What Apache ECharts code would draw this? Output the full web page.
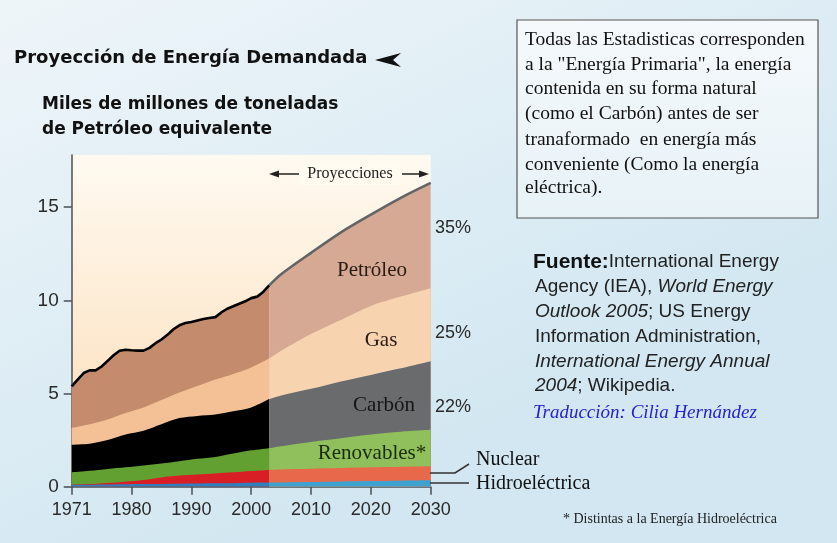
<!DOCTYPE html>
<html lang="es" style="height: 100%">
<head>
    <meta charset="UTF-8">
    <title>Proyección de Energía Demandada</title>
    <script src="https://cdn.jsdelivr.net/npm/echarts@6/dist/echarts.min.js"></script>
</head>
<body style="height: 100%; margin: 0">
<div id="main" style="width: 837px; height: 543px"></div>
<script>
    // eje x: la primera marca se rotula 1971
    var xTickLabels = ['1971', '1980', '1990', '2000', '2010', '2020', '2030'];
    var yTicks = [0, 5, 10, 15];

    // historico: total anual (linea negra)
    var histYears = [1970, 1971, 1972, 1973, 1974, 1975, 1976, 1977, 1978, 1979, 1980, 1981,
        1982, 1983, 1984, 1985, 1986, 1987, 1988, 1989, 1990, 1991, 1992, 1993, 1994, 1995,
        1996, 1997, 1998, 1999, 2000, 2001, 2002, 2003];
    var histTotal = [5.38, 5.75, 6.1, 6.24, 6.24, 6.45, 6.75, 7.05, 7.3, 7.35, 7.32, 7.3,
        7.3, 7.45, 7.7, 7.9, 8.15, 8.45, 8.66, 8.78, 8.84, 8.92, 9.0, 9.05, 9.1, 9.35,
        9.55, 9.68, 9.82, 9.95, 10.12, 10.2, 10.45, 10.8];

    // historico: fuentes (de abajo hacia arriba)
    var lowYears = [1970, 1973, 1976, 1979, 1982, 1985, 1988, 1991, 1994, 1997, 2000, 2003];
    var histHydro = [0.10, 0.11, 0.12, 0.13, 0.14, 0.15, 0.16, 0.17, 0.18, 0.19, 0.21, 0.22];
    var histNuclear = [0.01, 0.03, 0.08, 0.14, 0.22, 0.35, 0.44, 0.49, 0.53, 0.58, 0.63, 0.68];
    var histRenew = [0.66, 0.71, 0.75, 0.77, 0.78, 0.75, 0.77, 0.84, 0.89, 1.01, 1.11, 1.17];
    var histCoal = [1.48, 1.45, 1.55, 1.76, 1.86, 2.10, 2.31, 2.30, 2.28, 2.27, 2.30, 2.63];
    var histGas = [0.90, 1.05, 1.10, 1.15, 1.25, 1.30, 1.37, 1.60, 1.87, 2.00, 2.15, 2.18];

    // proyecciones
    var projYears = [2003, 2005, 2010, 2015, 2020, 2025, 2030];
    var projTotal = [10.8, 11.4, 12.55, 13.65, 14.6, 15.5, 16.3];
    var projHydro = [0.22, 0.23, 0.25, 0.28, 0.30, 0.32, 0.34];
    var projNuclear = [0.68, 0.69, 0.71, 0.72, 0.74, 0.75, 0.76];
    var projRenew = [1.17, 1.25, 1.44, 1.60, 1.76, 1.88, 1.95];
    var projCoal = [2.63, 2.73, 2.85, 3.05, 3.20, 3.40, 3.68];
    var projGas = [2.18, 2.40, 2.95, 3.30, 3.70, 3.85, 3.92];

    var histColors = ['#2f7fbf', '#d91f26', '#62a032', '#000000', '#f3c195'];
    var projColors = ['#3ea2d0', '#e7684b', '#90c05c', '#6a6b6d', '#f7d3b0'];

    function pairs(xs, ys) {
        return xs.map(function (x, i) { return [x, ys[i]]; });
    }

    // cada capa se rellena desde 0 hasta su borde superior acumulado;
    // las capas inferiores se dibujan encima
    function layers(xs, groups, colors, tag) {
        var out = [];
        var acc = xs.map(function () { return 0; });
        var tops = groups.map(function (g) {
            acc = acc.map(function (a, i) { return a + g[i]; });
            return acc.slice();
        });
        tops.forEach(function (top, k) {
            out.push({
                name: tag + k,
                type: 'line',
                data: pairs(xs, top),
                symbol: 'none',
                smooth: 0.3,
                lineStyle: {width: 0},
                areaStyle: {color: colors[k], opacity: 1},
                silent: true,
                z: 10 - k
            });
        });
        return out;
    }

    var serif = '"Liberation Serif", "DejaVu Serif", serif';
    var sans = '"Liberation Sans", Arial, sans-serif';

    var series = [
        {
            name: 'Total',
            type: 'line',
            data: pairs(histYears, histTotal),
            symbol: 'none',
            lineStyle: {color: '#000', width: 2.6},
            areaStyle: {color: '#c48b6c', opacity: 1},
            z: 2
        },
        {
            name: 'Total proyectado',
            type: 'line',
            smooth: 0.3,
            data: pairs(projYears, projTotal),
            symbol: 'none',
            lineStyle: {color: '#626466', width: 2.6},
            areaStyle: {color: '#d5a993', opacity: 1},
            z: 2
        }
    ].concat(
        layers(lowYears, [histHydro, histNuclear, histRenew, histCoal, histGas], histColors, 'h'),
        layers(projYears, [projHydro, projNuclear, projRenew, projCoal, projGas], projColors, 'p')
    );

    myoption = {
        animation: false,
        backgroundColor: new echarts.graphic.LinearGradient(0, 0, 0.3, 1, [
            {offset: 0, color: '#eef5f9'},
            {offset: 1, color: '#d2e7f1'}
        ]),
        grid: {
            left: 71.7,
            right: 406.3,
            top: 155,
            bottom: 56.3,
            show: true,
            borderWidth: 0,
            backgroundColor: new echarts.graphic.LinearGradient(0, 0, 0, 1, [
                {offset: 0, color: '#fffaf1'},
                {offset: 1, color: '#fbdcb5'}
            ])
        },
        xAxis: {
            type: 'value',
            min: 1970,
            max: 2030,
            interval: 10,
            splitLine: {show: false},
            axisLine: {lineStyle: {color: '#4a4f55', width: 1.5}},
            axisTick: {length: 8, lineStyle: {color: '#4a4f55', width: 1.5}},
            axisLabel: {
                margin: 14,
                fontSize: 18,
                fontFamily: sans,
                color: '#2a2a2a',
                formatter: function (v) {
                    return xTickLabels[Math.round((v - 1970) / 10)];
                }
            }
        },
        yAxis: {
            type: 'value',
            min: 0,
            max: 17.8,
            interval: 5,
            splitLine: {show: false},
            axisLine: {show: true, lineStyle: {color: '#4a4f55', width: 1.5}},
            axisTick: {show: true, length: 8, customValues: yTicks, lineStyle: {color: '#4a4f55', width: 1.5}},
            axisLabel: {
                customValues: yTicks,
                margin: 13,
                fontSize: 19,
                fontFamily: sans,
                color: '#2a2a2a'
            }
        },
        series: series,
        graphic: [
            // titulo y subtitulo
            {type: 'text', x: 14, y: 58, style: {text: 'Proyección de Energía Demandada', font: 'bold 18px "DejaVu Sans"', fill: '#111', textVerticalAlign: 'middle'}},
            {type: 'polygon', shape: {points: [[375, 60], [401, 53], [393, 60], [401, 67]]}, style: {fill: '#111'}},
            {type: 'text', x: 42, y: 105, style: {text: 'Miles de millones de toneladas', font: 'bold 17px "DejaVu Sans"', fill: '#111', textVerticalAlign: 'middle'}},
            {type: 'text', x: 42, y: 130, style: {text: 'de Petróleo equivalente', font: 'bold 17px "DejaVu Sans"', fill: '#111', textVerticalAlign: 'middle'}},
            // proyecciones
            {type: 'rect', shape: {x: 300, y: 163, width: 100, height: 22}, style: {fill: 'rgba(255,251,240,0.8)'}, z: 20},
            {type: 'text', x: 350, y: 174, style: {text: 'Proyecciones', font: '16px ' + serif, fill: '#222', textAlign: 'center', textVerticalAlign: 'middle'}, z: 21},
            {type: 'line', shape: {x1: 277, y1: 174, x2: 299, y2: 174}, style: {stroke: '#222', lineWidth: 1.5}, z: 21},
            {type: 'polygon', shape: {points: [[269, 174], [279, 170.5], [279, 177.5]]}, style: {fill: '#222'}, z: 21},
            {type: 'line', shape: {x1: 402, y1: 174, x2: 421, y2: 174}, style: {stroke: '#222', lineWidth: 1.5}, z: 21},
            {type: 'polygon', shape: {points: [[429, 174], [419, 170.5], [419, 177.5]]}, style: {fill: '#222'}, z: 21},
            // etiquetas de las capas
            {type: 'text', x: 372, y: 270, style: {text: 'Petróleo', font: '21px ' + serif, fill: '#2a1c14', textAlign: 'center', textVerticalAlign: 'middle'}, z: 21},
            {type: 'text', x: 381, y: 340, style: {text: 'Gas', font: '21px ' + serif, fill: '#2a1c14', textAlign: 'center', textVerticalAlign: 'middle'}, z: 21},
            {type: 'text', x: 384, y: 405, style: {text: 'Carbón', font: '21px ' + serif, fill: '#151515', textAlign: 'center', textVerticalAlign: 'middle'}, z: 21},
            {type: 'text', x: 372, y: 453, style: {text: 'Renovables*', font: '21px ' + serif, fill: '#1b2a0c', textAlign: 'center', textVerticalAlign: 'middle'}, z: 21},
            {type: 'text', x: 435, y: 228, style: {text: '35%', font: '18px ' + sans, fill: '#2a2a2a', textVerticalAlign: 'middle'}},
            {type: 'text', x: 435, y: 333, style: {text: '25%', font: '18px ' + sans, fill: '#2a2a2a', textVerticalAlign: 'middle'}},
            {type: 'text', x: 435, y: 407, style: {text: '22%', font: '18px ' + sans, fill: '#2a2a2a', textVerticalAlign: 'middle'}},
            {type: 'polyline', shape: {points: [[430, 473], [455, 473], [469, 464]]}, style: {stroke: '#333', lineWidth: 1.5, fill: null}, z: 21},
            {type: 'line', shape: {x1: 430, y1: 483, x2: 469, y2: 483}, style: {stroke: '#333', lineWidth: 1.5}, z: 21},
            {type: 'text', x: 476, y: 460, style: {text: 'Nuclear', font: '20px ' + serif, fill: '#111', textVerticalAlign: 'middle'}},
            {type: 'text', x: 476, y: 484, style: {text: 'Hidroeléctrica', font: '20px ' + serif, fill: '#111', textVerticalAlign: 'middle'}},
            {type: 'text', x: 563, y: 519, style: {text: '* Distintas a la Energía Hidroeléctrica', font: '14px ' + serif, fill: '#222', textVerticalAlign: 'middle'}},
            // recuadro de nota
            {type: 'rect', shape: {x: 517, y: 20, width: 301, height: 198},
                style: {fill: new echarts.graphic.LinearGradient(0, 0, 0, 1, [
                    {offset: 0, color: '#f5f9fc'}, {offset: 1, color: '#e7f2f7'}]), stroke: '#555', lineWidth: 1.2}},
            {type: 'text', x: 525, y: 40, style: {text: 'Todas las Estadisticas corresponden', font: '19.5px ' + serif, fill: '#111', textVerticalAlign: 'middle'}},
            {type: 'text', x: 525, y: 65, style: {text: 'a la "Energía Primaria", la energía', font: '19.5px ' + serif, fill: '#111', textVerticalAlign: 'middle'}},
            {type: 'text', x: 525, y: 89, style: {text: 'contenida en su forma natural', font: '19.5px ' + serif, fill: '#111', textVerticalAlign: 'middle'}},
            {type: 'text', x: 525, y: 114, style: {text: '(como el Carbón) antes de ser', font: '19.5px ' + serif, fill: '#111', textVerticalAlign: 'middle'}},
            {type: 'text', x: 525, y: 140, style: {text: 'tranaformado  en energía más', font: '19.5px ' + serif, fill: '#111', textVerticalAlign: 'middle'}},
            {type: 'text', x: 525, y: 165, style: {text: 'conveniente (Como la energía', font: '19.5px ' + serif, fill: '#111', textVerticalAlign: 'middle'}},
            {type: 'text', x: 525, y: 188, style: {text: 'eléctrica).', font: '19.5px ' + serif, fill: '#111', textVerticalAlign: 'middle'}},
            // fuente
            {type: 'text', x: 533, y: 262, style: {text: '{b|Fuente:}{n|International Energy}', textVerticalAlign: 'middle',
                rich: {b: {font: 'bold 21px ' + sans, fill: '#111'}, n: {font: '19px ' + sans, fill: '#222'}}}},
            {type: 'text', x: 535, y: 287, style: {text: '{n|Agency (IEA), }{i|World Energy}', textVerticalAlign: 'middle',
                rich: {n: {font: '19px ' + sans, fill: '#222'}, i: {font: 'italic 19px ' + sans, fill: '#222'}}}},
            {type: 'text', x: 535, y: 312, style: {text: '{i|Outlook 2005}{n|; US Energy}', textVerticalAlign: 'middle',
                rich: {n: {font: '19px ' + sans, fill: '#222'}, i: {font: 'italic 19px ' + sans, fill: '#222'}}}},
            {type: 'text', x: 535, y: 337, style: {text: 'Information Administration,', font: '19px ' + sans, fill: '#222', textVerticalAlign: 'middle'}},
            {type: 'text', x: 535, y: 362, style: {text: 'International Energy Annual', font: 'italic 19px ' + sans, fill: '#222', textVerticalAlign: 'middle'}},
            {type: 'text', x: 535, y: 386, style: {text: '{i|2004}{n|; Wikipedia.}', textVerticalAlign: 'middle',
                rich: {n: {font: '19px ' + sans, fill: '#222'}, i: {font: 'italic 19px ' + sans, fill: '#222'}}}},
            {type: 'text', x: 533, y: 413, style: {text: 'Traducción: Cilia Hernández', font: 'italic 19px ' + serif, fill: '#2323cf', textVerticalAlign: 'middle'}}
        ]
    };
    var myChart = echarts.init(document.getElementById('main'));
    myChart.setOption(myoption);
</script>
</body>
</html>
